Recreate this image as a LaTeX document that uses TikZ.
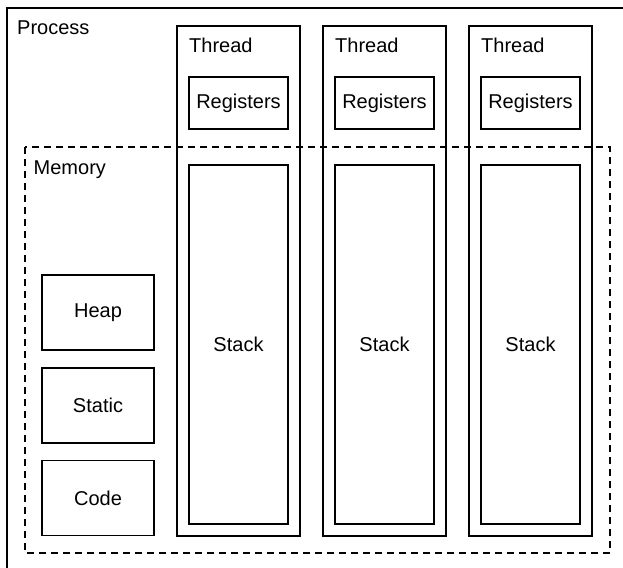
\documentclass[tikz,border=0pt]{standalone}
\usepackage{fontspec}
\setmainfont{Liberation Sans}
\tikzset{
  box/.style = {draw, line width=1.3pt, inner sep=0pt, outer sep=0pt},
  label text/.style = {anchor=base west, inner sep=0pt}
}
\tikzset{memline/.style={line width=1.3pt, dash pattern=on 7pt off 5pt}}

\begin{document}
\begin{tikzpicture}[x=1pt,y=-1pt,font=\fontsize{20}{24}\selectfont]
    \useasboundingbox (0,0) rectangle (623,567);
    % process frame runs past the page edge
    \node[box, minimum width=623pt, minimum height=567pt, anchor=north west] (process) at (7,8) {};
    \node[label text] (processlbl) at (17,34.5) {Process};
    % threads
    \foreach \i/\x in {1/238.5, 2/384.5, 3/530.5} {
        \node[box, minimum width=123pt, minimum height=510pt] (thread\i) at (\x,281) {};
        \node[label text] (threadlbl\i) at (\x-49.5,52.5) {Thread};
        \node[box, minimum width=99pt, minimum height=52pt] (regs\i) at (\x,103) {Registers};
        \node[box, minimum width=99pt, minimum height=359pt] (stack\i) at (\x,344.5) {Stack};
    }
    % memory
    \draw[memline] (25,147) rectangle (610,553);
    \node[label text] (memlbl) at (33.5,174) {Memory};
    \node[box, minimum width=112pt, minimum height=75pt] (heap) at (98,312.5) {Heap};
    \node[box, minimum width=112pt, minimum height=75pt] (static) at (98,405.5) {Static};
    \node[box, minimum width=112pt, minimum height=75pt] (code) at (98,498) {Code};
\end{tikzpicture}
\end{document}
